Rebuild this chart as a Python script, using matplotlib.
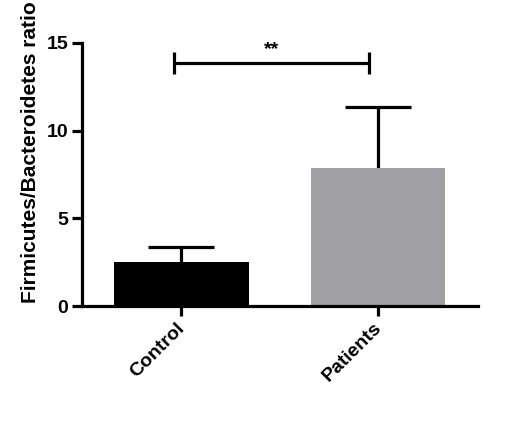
import matplotlib
matplotlib.use("Agg")
import matplotlib.pyplot as plt
import matplotlib.transforms as mtransforms

categories = ["Control", "Patients"]
means = [2.51, 7.87]
errors_upper = [0.86, 3.48]
bar_colors = ["#000000", "#a09fa4"]
sig_label = "**"
sig_y = 13.86
yticks = [0, 5, 10, 15]
ylabel = "Firmicutes/Bacteroidetes ratio"

plt.rcParams['font.family'] = ['Liberation Sans', 'DejaVu Sans']

fig = plt.figure(figsize=(5.2, 4.41), dpi=100)
ax = fig.add_axes([0.1577, 0.3061, 0.919 - 0.1577, 0.9025 - 0.3061])

x = list(range(len(categories)))
lw = 2.3
ax.bar(x, means, width=0.685, color=bar_colors, zorder=2)
cap_half = 0.167
for xi, m, e in zip(x, means, errors_upper):
    ax.vlines(xi, m, m + e, color='black', lw=lw, zorder=1)
    ax.hlines(m + e, xi - cap_half, xi + cap_half, color='black', lw=lw, zorder=1)

# significance bracket
x0, x1 = x[0] - 0.035, x[1] - 0.045
ax.plot([x0, x1], [sig_y, sig_y], color='black', lw=lw, solid_capstyle='butt')
for xx in (x0, x1):
    ax.plot([xx, xx], [sig_y - 0.62, sig_y + 0.62], color='black', lw=lw, solid_capstyle='butt')
ax.text((x0 + x1) / 2, sig_y + 0.3, sig_label, ha='center', va='bottom', fontsize=14, fontweight='bold')

ax.set_xlim(-0.505, 1.508)
ax.set_ylim(0, 15)
ax.set_yticks(yticks)
ax.set_xticks(x)
ax.set_xticklabels([])
offset = mtransforms.ScaledTranslation(-5 / 100, -(7 + 3.5) / 72 + 1 / 100, fig.dpi_scale_trans)
for xi, cat in zip(x, categories):
    ax.text(xi, 0, cat, transform=ax.get_xaxis_transform() + offset,
            rotation=45, ha='right', va='top', rotation_mode='anchor',
            fontsize=14, fontweight='bold')
ax.tick_params(axis='y', labelsize=14, width=lw, length=7, pad=3)
ax.tick_params(axis='x', width=lw, length=7)
for lab in ax.get_yticklabels():
    lab.set_fontweight('bold')
ax.set_ylabel(ylabel, fontsize=15, fontweight='bold')
ax.yaxis.set_label_coords(-0.129, 0.585)
ax.yaxis.label.set_va('center')

for s in ['top', 'right']:
    ax.spines[s].set_visible(False)
for s in ['left', 'bottom']:
    ax.spines[s].set_linewidth(lw)

fig.savefig("out.png", dpi=100)
